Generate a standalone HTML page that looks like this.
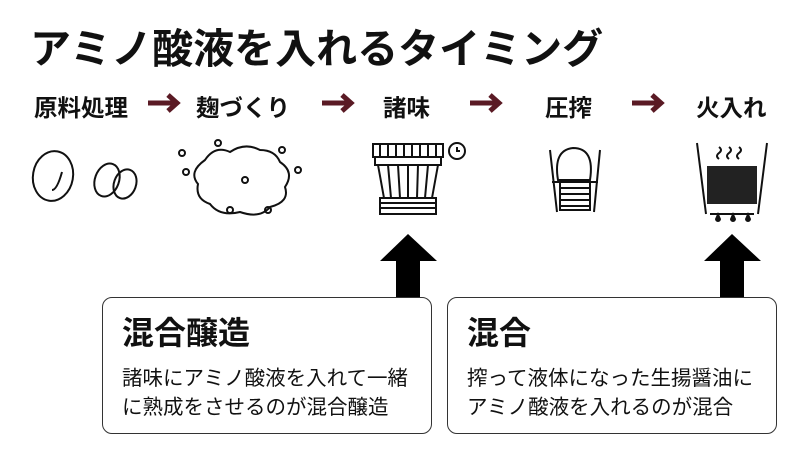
<!DOCTYPE html>
<html><head><meta charset="utf-8"><style>
body{margin:0;width:800px;height:450px;background:#fff;position:relative;overflow:hidden;font-family:"Liberation Sans","Noto Sans CJK JP",sans-serif;color:#111}
.a{position:absolute;white-space:nowrap}
.t{left:30px;top:15px;font-size:41px;font-weight:bold;letter-spacing:0px}
.s{top:89px;font-size:23.5px;font-weight:bold}
.box{position:absolute;top:297px;width:330px;height:137px;border:1.5px solid #333;border-radius:10px;box-sizing:border-box}
.bt{position:absolute;left:19px;top:10px;font-size:32px;font-weight:bold}
.bx{position:absolute;left:19px;top:66px;font-size:20.5px;line-height:29px}
</style></head><body>
<div class="a t">アミノ酸液を入れるタイミング</div>
<div class="a s" style="left:34px">原料処理</div>
<div class="a s" style="left:196px">麹づくり</div>
<div class="a s" style="left:383px">諸味</div>
<div class="a s" style="left:545px">圧搾</div>
<div class="a s" style="left:696px">火入れ</div>
<svg class="a" style="left:0;top:0" width="800" height="450">
<g stroke="#5a1a24" stroke-width="5" fill="none">
<path d="M148 103h26M168 95l9 8-9 8"/>
<path d="M322 103h26M342 95l9 8-9 8"/>
<path d="M470 103h26M490 95l9 8-9 8"/>
<path d="M632 103h26M652 95l9 8-9 8"/>
</g>
<g fill="#000">
<path d="M396 297V261h-16l28-27 29 27h-17v36z"/>
<path d="M720 297V261h-16l28-27 29 27h-17v36z"/>
</g>
<g stroke="#111" stroke-width="2" fill="none">
<ellipse cx="53" cy="176" rx="20" ry="25" transform="rotate(10 53 176)"/>
<path d="M62 172q-5 18-10 18"/>
<ellipse cx="107" cy="180" rx="12" ry="17" transform="rotate(20 107 180)"/>
<ellipse cx="125" cy="184" rx="11" ry="15" transform="rotate(20 125 184)"/>
<path d="M205 160q10-15 25-8q15-10 30-2q15 0 20 12q15 10 5 25q5 15-15 20q-10 12-30 5q-20 5-30-8q-15-5-12-20q-10-12 7-24z"/>
<circle cx="218" cy="143" r="3"/><circle cx="182" cy="153" r="3"/><circle cx="186" cy="172" r="3"/><circle cx="245" cy="180" r="3"/><circle cx="298" cy="170" r="3"/><circle cx="230" cy="210" r="3"/><circle cx="268" cy="210" r="3"/><circle cx="282" cy="150" r="3"/>
<rect x="373" y="144" width="70" height="13"/>
<path d="M380 144v13M388 144v13M396 144v13M404 144v13M412 144v13M420 144v13M428 144v13M436 144v13"/>
<rect x="375" y="157" width="66" height="8"/>
<path d="M378 165l6 33h48l6-33M388 165l3 33M398 165l2 33M408 165v33M418 165l-1 33M428 165l-3 33"/>
<rect x="380" y="198" width="56" height="16"/><path d="M380 203h56M380 208h56"/>
<circle cx="457" cy="151" r="8"/><path d="M457 147v4h3"/>
<path d="M550 150l7 62M600 150l-6 62"/>
<path d="M558 180q-5-30 15-32q22 0 17 32z"/>
<rect x="560" y="182" width="30" height="28"/><path d="M560 188h30M560 194h30M560 200h30M560 206h30M552 182h46"/>
<path d="M697 143l9 71M767 143l-9 71M710 214h44"/>
<path d="M719 147q4 3 0 6t0 6M729 147q4 3 0 6t0 6M739 147q4 3 0 6t0 6"/>
</g>
<rect x="707" y="166" width="50" height="38" fill="#222"/>
<g fill="#111"><path d="M718 212l3 7a3 3 0 1 1-6 0z M733 212l3 7a3 3 0 1 1-6 0z M748 212l3 7a3 3 0 1 1-6 0z"/></g>
</svg>
<div class="box" style="left:102px"><div class="bt">混合醸造</div><div class="bx">諸味にアミノ酸液を入れて一緒<br>に熟成をさせるのが混合醸造</div></div>
<div class="box" style="left:447px"><div class="bt">混合</div><div class="bx">搾って液体になった生揚醤油に<br>アミノ酸液を入れるのが混合</div></div>
</body></html>
